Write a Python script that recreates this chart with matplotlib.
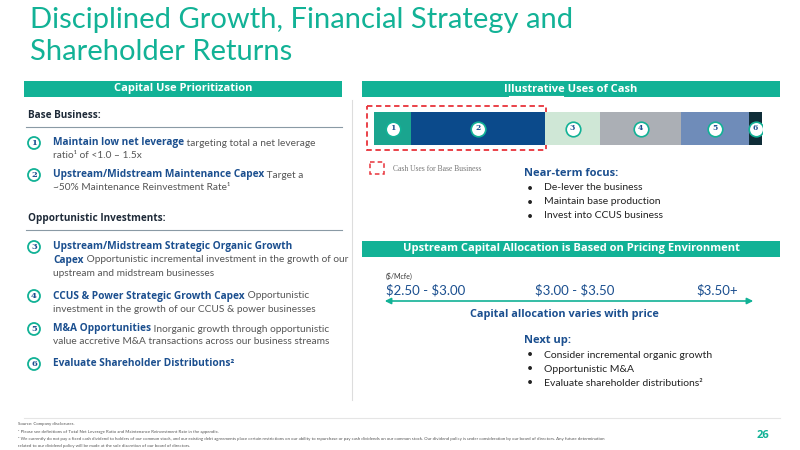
import matplotlib
matplotlib.use("Agg")
import matplotlib.pyplot as plt
from matplotlib.patches import Rectangle, FancyArrowPatch

plt.rcParams['font.family'] = ['Lato', 'DejaVu Sans']
plt.rcParams['text.parse_math'] = False

segments = ["1", "2", "3", "4", "5", "6"]
seg_sizes = [37, 134, 55, 81, 68, 13]
seg_colors = ["#1aa58f", "#0b4a8b", "#cfe7d6", "#abafb5", "#6f8cb9", "#0f2d38"]
price_labels = ["$2.50 - $3.00", "$3.00 - $3.50", "$3.50+"]
near_term = ["De-lever the business", "Maintain base production", "Invest into CCUS business"]
next_up = ["Consider incremental organic growth", "Opportunistic M&A", "Evaluate shareholder distributions²"]

TEAL = "#12b296"
BLUE = "#1b4f8f"
GRAY = "#555555"
BF = ['Open Sans', 'DejaVu Sans']

fig = plt.figure(figsize=(8, 4.5), dpi=100)
ax = fig.add_axes([0, 0, 1, 1])
ax.set_xlim(0, 800); ax.set_ylim(450, 0); ax.axis('off')

ax.text(30, 20, "Disciplined Growth, Financial Strategy and", color=TEAL, fontsize=21, va='center')
ax.text(30, 52, "Shareholder Returns", color=TEAL, fontsize=21, va='center')

for x0, x1, y, lab in [(24, 342, 89, "Capital Use Prioritization"),
                       (362, 780, 89, "Illustrative Uses of Cash"),
                       (362, 780, 249, "Upstream Capital Allocation is Based on Pricing Environment")]:
    ax.add_patch(Rectangle((x0, y - 8), x1 - x0, 16, color=TEAL, lw=0))
    ax.text((x0 + x1) / 2, y, lab, color='white', fontsize=8, fontweight='bold', ha='center', va='center', family=BF)
ax.plot([509, 563], [96, 96], color='white', lw=0.8)

ax.plot([352, 352], [100, 400], color='#dddddd', lw=0.8)
ax.plot([24, 780], [418, 418], color='#e5e5e5', lw=0.8)

ax.text(28, 115, "Base Business:", color='#1e2a38', fontsize=7.2, fontweight='bold', va='center', family=BF)
ax.plot([26, 342], [127, 127], color='#8a9aa5', lw=0.8)
ax.text(28, 218, "Opportunistic Investments:", color='#1e2a38', fontsize=7.2, fontweight='bold', va='center', family=BF)
ax.plot([26, 342], [230, 230], color='#8a9aa5', lw=0.8)

items = [
    (143, "Maintain low net leverage", " targeting total a net leverage", "ratio¹ of <1.0 – 1.5x"),
    (175, "Upstream/Midstream Maintenance Capex", " Target a", "~50% Maintenance Reinvestment Rate¹"),
    (247, "Upstream/Midstream Strategic Organic Growth", "", None),
    (296, "CCUS & Power Strategic Growth Capex", " Opportunistic", "investment in the growth of our CCUS & power businesses"),
    (329, "M&A Opportunities", " Inorganic growth through opportunistic", "value accretive M&A transactions across our business streams"),
    (364, "Evaluate Shareholder Distributions²", "", None),
]
for i, (y, b, r, line2) in enumerate(items):
    ax.add_patch(plt.Circle((34, y), 6, fill=False, ec=TEAL, lw=1.3))
    ax.text(34, y, str(i + 1), color=BLUE, fontsize=6, fontweight='bold', ha='center', va='center', family='DejaVu Serif')
    t = ax.text(53, y, b, color=BLUE, fontsize=7.3, fontweight='bold', va='center', family=BF)
    if r:
        ax.annotate(r, xy=(1, 0.5), xycoords=t, color=GRAY, fontsize=7.3, va='center', ha='left')
    if line2:
        ax.text(53, y + 13, line2, color=GRAY, fontsize=7.3, va='center')
t3 = ax.text(53, 260, "Capex", color=BLUE, fontsize=7.3, fontweight='bold', va='center', family=BF)
ax.annotate(" Opportunistic incremental investment in the growth of our", xy=(1, 0.5), xycoords=t3, color=GRAY, fontsize=7.3, va='center')
ax.text(53, 273, "upstream and midstream businesses", color=GRAY, fontsize=7.3, va='center')

bax = fig.add_axes([374 / 800, 1 - 145 / 450, 388 / 800, 33 / 450])
left = 0
for s, w, c in zip(segments, seg_sizes, seg_colors):
    bax.barh(0, w, left=left, color=c, height=1, edgecolor='none')
    cx = left + w / 2
    bax.scatter([cx], [0], s=110, color='white', edgecolors=TEAL, linewidths=1.2, zorder=3)
    bax.text(cx, 0, s, color=BLUE, fontsize=5.5, fontweight='bold', ha='center', va='center', zorder=4, family='DejaVu Serif')
    left += w
bax.set_xlim(0, sum(seg_sizes)); bax.set_ylim(-0.5, 0.5); bax.axis('off')

ax.add_patch(Rectangle((367, 106), 179, 44, fill=False, ec='#e8333a', ls=(0, (3, 2)), lw=1.3))
ax.add_patch(Rectangle((370, 162), 14, 12, fill=False, ec='#e8333a', ls=(0, (3, 2)), lw=1.1))
ax.text(393, 169, "Cash Uses for Base Business", color='#777777', fontsize=5.5, va='center', family='Liberation Serif')

ax.text(524, 174, "Near-term focus:", color=BLUE, fontsize=8, fontweight='bold', va='center', family=BF)
for k, s in enumerate(near_term):
    ax.text(527, 188 + k * 14, "•", color='#222222', fontsize=7.5, va='center')
    ax.text(544, 188 + k * 14, s, color='#222222', fontsize=7.5, va='center')

ax.text(386, 276, "($/Mcfe)", color='#333333', fontsize=5, va='center')
ax.text(386, 290, price_labels[0], color=BLUE, fontsize=9.5, va='center', ha='left')
ax.text(575, 290, price_labels[1], color=BLUE, fontsize=9.5, va='center', ha='center')
ax.text(738, 290, price_labels[2], color=BLUE, fontsize=9.5, va='center', ha='right')
ax.add_patch(FancyArrowPatch((382, 301), (756, 301), arrowstyle='<|-|>', mutation_scale=9, color=TEAL, lw=1.2))
ax.text(564, 314, "Capital allocation varies with price", color=BLUE, fontsize=7.8, fontweight='bold', ha='center', va='center', family=BF)

ax.text(524, 340, "Next up:", color=BLUE, fontsize=8, fontweight='bold', va='center', family=BF)
for k, s in enumerate(next_up):
    ax.text(527, 355 + k * 14, "•", color='#222222', fontsize=7.5, va='center')
    ax.text(544, 355 + k * 14, s, color='#222222', fontsize=7.5, va='center')

foot = ["Source: Company disclosures.",
        "¹ Please see definitions of Total Net Leverage Ratio and Maintenance Reinvestment Rate in the appendix.",
        "² We currently do not pay a fixed cash dividend to holders of our common stock, and our existing debt agreements place certain restrictions on our ability to repurchase or pay cash dividends on our common stock. Our dividend policy is under consideration by our board of directors. Any future determination",
        "related to our dividend policy will be made at the sole discretion of our board of directors."]
for k, s in enumerate(foot):
    ax.text(18, 424 + k * 7.5, s, color='#555555', fontsize=3.2, va='center')
ax.text(757, 436, "26", color=TEAL, fontsize=8, fontweight='bold', va='center', family=BF)

fig.savefig("out.png", dpi=100)
